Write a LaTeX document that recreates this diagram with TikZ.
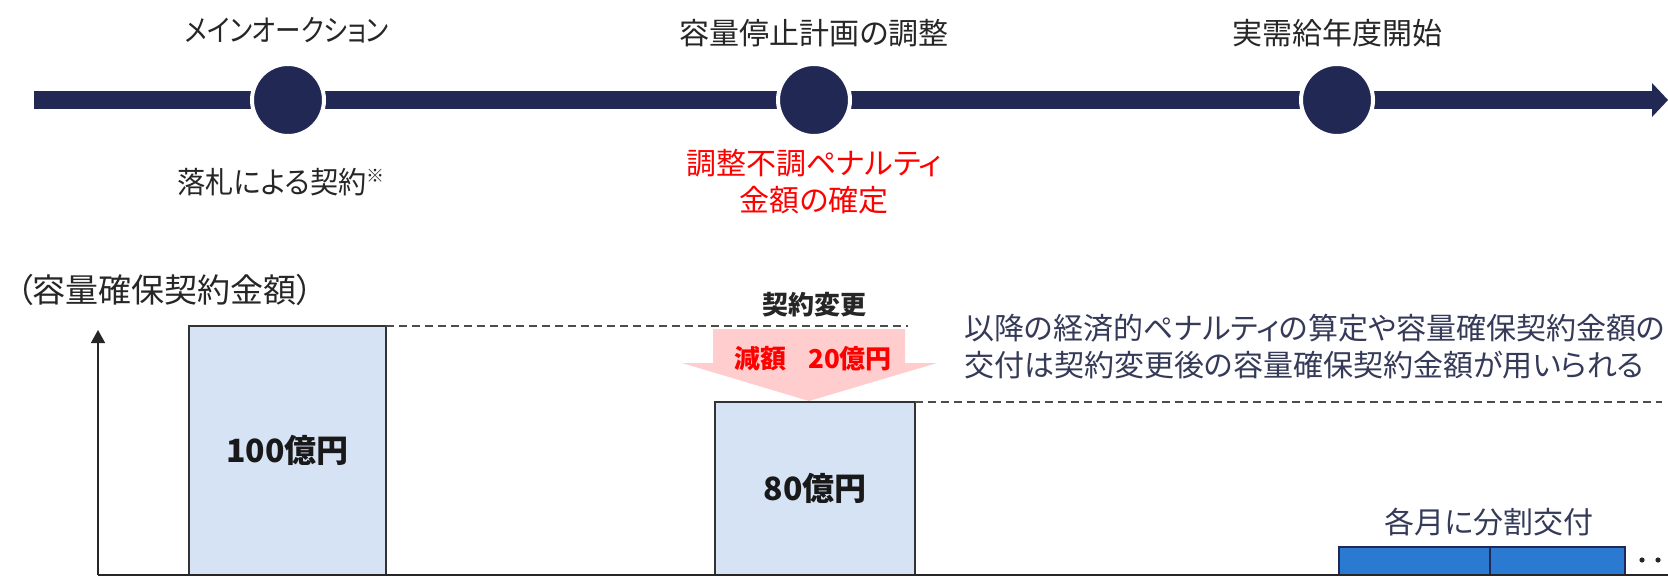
\documentclass[tikz,border=0pt]{standalone}
\usepackage{fontspec}
\setmainfont{Noto Sans CJK JP}[RawFeature={+palt}]
\usetikzlibrary{arrows.meta}
\definecolor{navy}{RGB}{34,40,84}
\definecolor{txtgray}{RGB}{38,38,38}
\definecolor{txtnavy}{RGB}{52,58,88}
\definecolor{lightblue}{RGB}{213,227,245}
\definecolor{pinkarrow}{RGB}{255,205,205}
\definecolor{monthblue}{RGB}{42,122,210}
\definecolor{alertred}{RGB}{255,0,0}
\begin{document}
\begin{tikzpicture}[x=0.5pt,y=-0.5pt,
  lbl/.style={font=\fontsize{15}{18.5}\selectfont, text=txtgray, inner sep=0pt},
  redlbl/.style={lbl, text=alertred, align=center},
  notelbl/.style={font=\fontsize{15}{18.5}\selectfont, text=txtnavy, inner sep=0pt, align=left},
  boldlbl/.style={font=\fontsize{16}{19}\selectfont\bfseries, text=black!90, inner sep=0pt},
  mile/.style={circle, fill=navy, draw=white, line width=2pt, minimum size=36pt, inner sep=0pt, outer sep=0pt},
  bar/.style={draw=black!80, fill=lightblue, line width=0.8pt, inner sep=0pt, outer sep=0pt},
  monthbar/.style={draw=navy, fill=monthblue, line width=0.8pt, inner sep=0pt, outer sep=0pt, minimum height=14pt},
  guide/.style={draw=black!70, line width=0.7pt, dash pattern=on 4pt off 2.5pt},
  axisline/.style={draw=black!85, line width=0.75pt}
]
\useasboundingbox (0,0) rectangle (1668,578);

% ---------- timeline ----------
\coordinate (tls) at (34,100);
\coordinate (tle) at (1653,100);
\draw[navy, line width=9pt] (tls) -- (tle);
\fill[navy] (1652,83) -- (1668,100) -- (1652,117) -- cycle;

\node[mile] (m1) at (288,100) {};
\node[mile] (m2) at (814,100) {};
\node[mile] (m3) at (1337,100) {};

\node[lbl] (t1) at (287,30) {\scalebox{0.85}[1]{メインオークション}};
\node[lbl] (t2) at (814,33) {容量停止計画の調整};
\node[lbl] (t3) at (1337,33) {実需給年度開始};

\node[lbl] (b1lbl) at (281,182) {\scalebox{0.94}[1]{落札による契約}\raisebox{0.35em}{\fontsize{9}{9}\selectfont ※}};
\node[redlbl] (b2lbl) at (814,181.5) {調整不調ペナルティ\\金額の確定};

% ---------- chart ----------
\node[font=\fontsize{16.5}{19}\selectfont, text=txtgray, inner sep=0pt, anchor=west] (ytitle) at (16,290) {（容量確保契約金額）};

\coordinate (O) at (98,575);
\coordinate (Ytop) at (98,330);
\coordinate (Xend) at (1668,575);

\node[bar, minimum width=98.5pt, minimum height=124.5pt] (bar1) at (287.5,450.5) {};
\node[boldlbl] (v1) at (bar1.center) {100億円};

\node[bar, minimum width=100pt, minimum height=86.5pt] (bar2) at (815,488.5) {};
\node[boldlbl] (v2) at (bar2.center) {80億円};

\coordinate (g1end) at (908,326);
\coordinate (g2end) at (1662,402);
\draw[guide] (bar1.north east) -- (g1end);

% pink reduction arrow
\fill[pinkarrow] (713,329) -- (905,329) -- (905,363) -- (937,363) -- (809,401) -- (682,363) -- (713,363) -- cycle;
\node[font=\fontsize{13}{16}\selectfont\bfseries, text=alertred, inner sep=0pt] (cut) at (813,359) {減額\hspace{0.85em}20億円};
\node[font=\fontsize{13}{16}\selectfont\bfseries, text=black!85, inner sep=0pt] (chg) at (814,305) {契約変更};

\draw[guide] (bar2.north east) -- (g2end);

\node[notelbl, anchor=west] (note) at (964,346.5) {以降の経済的ペナルティの算定や容量確保契約金額の\\交付は契約変更後の容量確保契約金額が用いられる};

\node[monthbar, minimum width=75.5pt] (mb1) at (1414.5,561) {};
\node[monthbar, minimum width=67.5pt] (mb2) at (1557.5,561) {};
\node[font=\fontsize{15}{18}\selectfont, text=txtnavy, inner sep=0pt] (split) at (1489,522) {各月に分割交付};

\fill[black!85] (1642,560) circle (1.3pt);
\fill[black!85] (1658,560) circle (1.3pt);

\draw[axisline] (O) -- (Xend);
\draw[axisline, -{Triangle[length=6.5pt,width=7pt]}] (O) -- (Ytop);
\end{tikzpicture}
\end{document}
